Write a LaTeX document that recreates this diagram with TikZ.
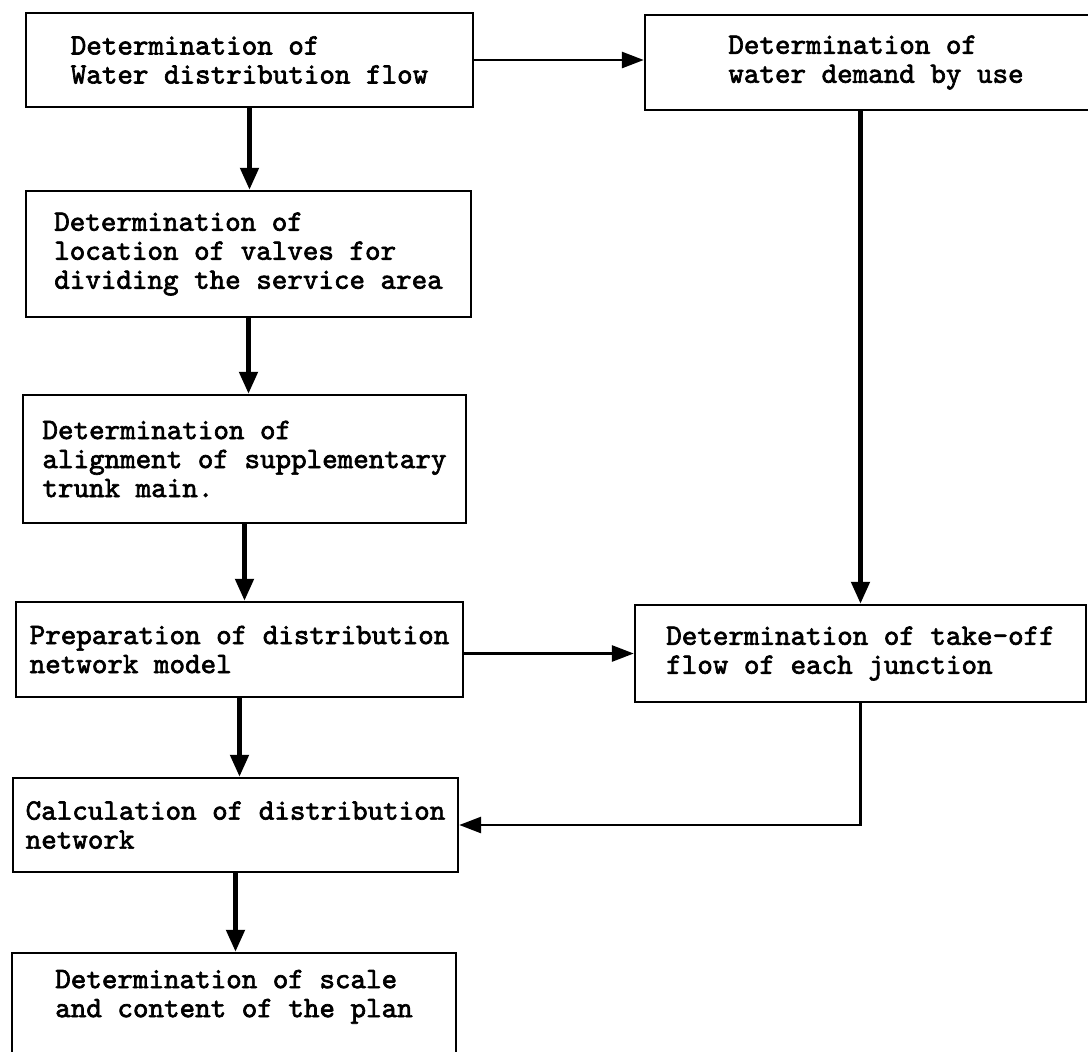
\documentclass[tikz,border=0pt]{standalone}
\usepackage{fontspec}
\newfontfamily\stagefont[FakeBold=2.2]{lmmono10-regular.otf}
\usetikzlibrary{arrows.meta}

\begin{document}
\begin{tikzpicture}[
x=0.5pt, y=-0.5pt,
stage/.style={
	draw, rectangle, line width=1.2pt,
	align=left, inner sep=0pt,
	font=\stagefont\fontsize{14.8}{14.5}\selectfont
},
flow/.style={-{Triangle[length=11pt,width=9pt]}, line width=2.4pt},
side/.style={-{Triangle[length=11pt,width=8pt]}, line width=1.4pt}
]
\useasboundingbox (0,0) rectangle (1088,1051);
% left column
\node[stage, minimum width=223.5pt, minimum height=47pt] (flowdet) at (249.5,60)
	{Determination of\\Water distribution flow};
\node[stage, minimum width=222.5pt, minimum height=63pt] (valves) at (248.5,254)
	{Determination of\\location of valves for\\dividing the service area};
\node[stage, minimum width=221.5pt, minimum height=64pt] (trunk) at (244.5,459)
	{Determination of\\alignment of supplementary\\trunk main.};
\node[stage, minimum width=223.5pt, minimum height=47.5pt] (model) at (239.5,649.5)
	{Preparation of distribution\\network model};
\node[stage, minimum width=222.5pt, minimum height=47pt] (calc) at (235.5,825)
	{Calculation of distribution\\network};
\node[stage, minimum width=222pt, minimum height=52.5pt, text depth=12pt] (plan) at (234,1005.5)
	{Determination of scale\\and content of the plan};
% right column
\node[stage, minimum width=231pt, minimum height=47.5pt] (demand) at (876,62.5)
	{Determination of\\water demand by use};
\node[stage, minimum width=225.5pt, minimum height=48.5pt] (takeoff) at (860.5,653.5)
	{Determination of take-off\\flow of each junction};

\draw[flow] (flowdet.south) -- (flowdet.south |- valves.north);
\draw[flow] (valves.south) -- (valves.south |- trunk.north);
\draw[flow] (trunk.south) -- (trunk.south |- model.north);
\draw[flow] (model.south) -- (model.south |- calc.north);
\draw[flow] (calc.south) -- (calc.south |- plan.north);
\draw[side] (flowdet.east) -- (flowdet.east -| demand.west);
\draw[flow] (takeoff.north |- demand.south) -- (takeoff.north);
\draw[side] (takeoff.west -| model.east) -- (takeoff.west);
\draw[side] (takeoff.south) |- (calc.east);
\end{tikzpicture}
\end{document}
